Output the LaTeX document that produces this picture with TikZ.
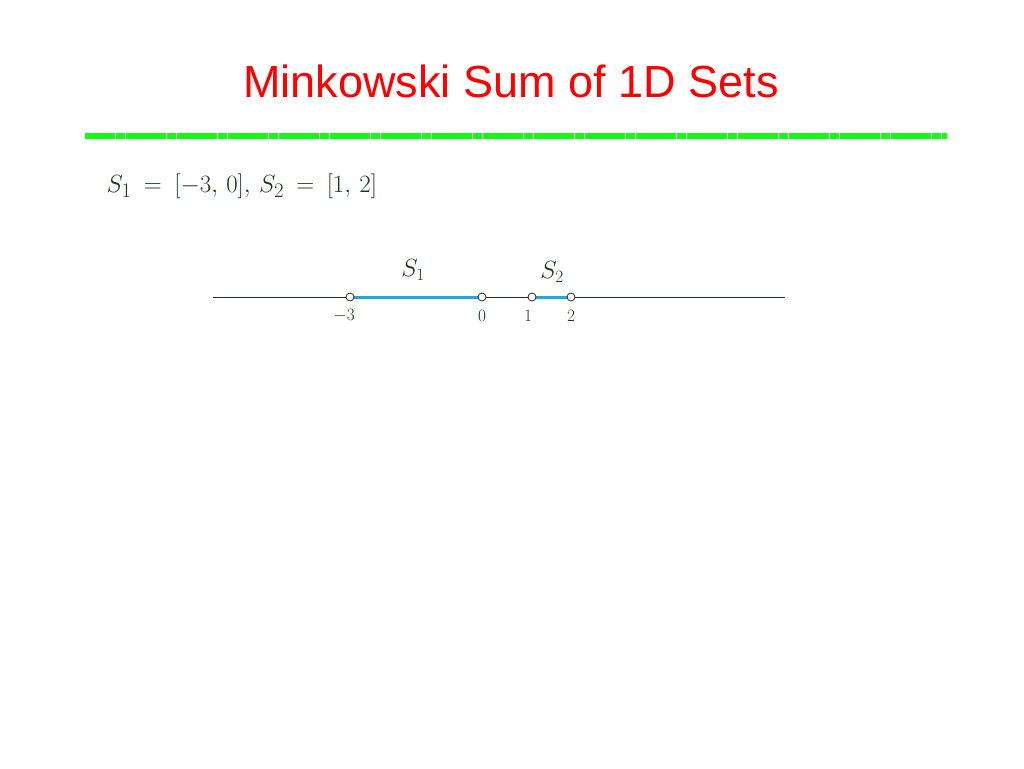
\documentclass[tikz,border=0pt]{standalone}
\usepackage{fontspec}
\newfontfamily\titlefont{Liberation Sans}
\begin{document}
\begin{tikzpicture}[x=1pt,y=-1pt,
  title/.style={font=\titlefont\fontsize{45}{54}\selectfont, text=red},
  mtext/.style={text={rgb,255:red,20;green,60;blue,20}, font=\fontsize{29.5}{34}\selectfont},
  small/.style={text={rgb,255:red,20;green,60;blue,20}, font=\fontsize{18}{22}\selectfont},
  axis/.style={draw={rgb,255:red,30;green,50;blue,30}, line width=0.8pt},
  seg/.style={draw={rgb,255:red,30;green,170;blue,225}, line width=3pt},
  pt/.style={circle, draw={rgb,255:red,30;green,50;blue,30}, fill=white, line width=0.8pt, inner sep=0pt, minimum size=8pt}]
\useasboundingbox (0,0) rectangle (1024,768);
\node[title] (t) at (511,81) {Minkowski Sum of 1D Sets};
\coordinate (gl) at (85,136);
\coordinate (gr) at (947,136);
\draw[draw={rgb,255:red,20;green,250;blue,20}, line width=6pt, dash pattern=on 9.7pt off 0.5pt] (gl) -- (gr);
\node[mtext, anchor=west] (eq) at (103,186) {$S_1\:=\:[-3,\,0],\,S_2\:=\:[1,\,2]$};
\coordinate (al) at (213,297);
\coordinate (ar) at (785,297);
\draw[axis] (al) -- (ar);
\coordinate (p3) at (350,297);
\coordinate (p0) at (482,297);
\coordinate (p1) at (532,297);
\coordinate (p2) at (571,297);
\draw[seg] (p3) -- (p0);
\draw[seg] (p1) -- (p2);
\node[pt] (c3) at (p3) {};
\node[pt] (c0) at (p0) {};
\node[pt] (c1) at (p1) {};
\node[pt] (c2) at (p2) {};
\node[small] (l3) at (344,316) {$-3$};
\node[small] (l0) at (482,316) {$0$};
\node[small] (l1) at (528,316) {$1$};
\node[small] (l2) at (571,316) {$2$};
\node[mtext, font=\fontsize{25}{28}\selectfont] (s1) at (413,270) {$S_1$};
\node[mtext, font=\fontsize{25}{28}\selectfont] (s2) at (552,272) {$S_2$};
\end{tikzpicture}
\end{document}
